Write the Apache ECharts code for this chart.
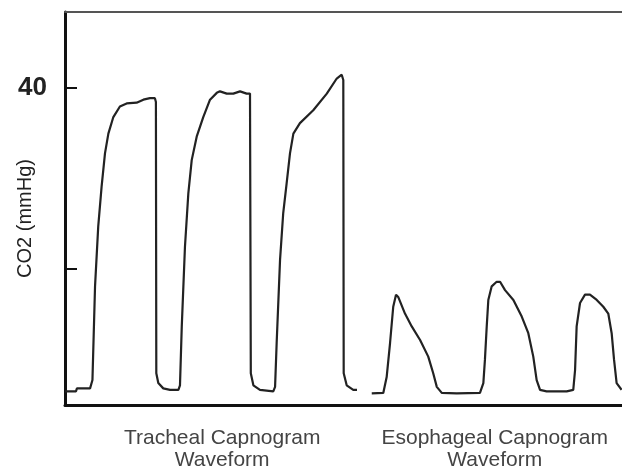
<!DOCTYPE html>
<html>
<head>
<meta charset="utf-8">
<script src="https://cdn.jsdelivr.net/npm/echarts@6/dist/echarts.min.js"></script>
<style>
  html, body { margin: 0; padding: 0; background: #fff; }
  #chart { width: 622px; height: 469px; }
</style>
</head>
<body>
<div id="chart"></div>
<script>
// time (s) and CO2 (mmHg)
const trachealTime = [0, 0.55, 0.6, 1.26, 1.34, 1.38, 1.51, 1.67, 1.84, 2.01, 2.18, 2.43, 2.76, 3.10, 3.60, 3.94, 4.27, 4.52, 4.57, 4.59, 4.69, 4.94, 5.28, 5.70,
  5.78, 5.87, 6.03, 6.20, 6.37, 6.62, 6.95, 7.29, 7.63, 7.79, 8.13, 8.46, 8.80, 9.13, 9.30, 9.34, 9.47, 9.80, 10.47,
  10.56, 10.64, 10.81, 10.97, 11.14, 11.31, 11.48, 11.81, 12.48, 13.16, 13.66, 13.91, 13.99, 14.01, 14.16, 14.49, 14.68]
const trachealCO2 = [-0.2, -0.2, 0.2, 0.2, 0, 1.3, 13.7, 21.6, 26.9, 31.3, 33.9, 36.1, 37.5, 37.9, 38.0, 38.4, 38.6, 38.6, 38.1, 2.2, 0.9, 0.2, 0, 0,
  0.6, 8.4, 18.9, 26.0, 30.4, 33.5, 36.1, 38.4, 39.3, 39.5, 39.2, 39.2, 39.5, 39.2, 39.2, 2.2, 0.6, 0, -0.2,
  0.4, 6.2, 17.2, 23.4, 27.3, 31.3, 33.9, 35.3, 37.0, 39.2, 41.2, 41.7, 41.0, 2.2, 0.6, 0, 0]

const esophagealTime = [15.42, 16.00, 16.17, 16.34, 16.50, 16.64, 16.75, 17.09, 17.43, 17.85, 18.26, 18.51, 18.69, 18.94, 19.69,
  20.86, 21.03, 21.11, 21.20, 21.28, 21.45, 21.70, 21.87, 22.12, 22.54, 22.96, 23.29, 23.54, 23.71, 23.88, 24.21, 25.22,
  25.55, 25.64, 25.72, 25.89, 26.14, 26.39, 26.73, 27.06, 27.31, 27.48, 27.60, 27.73, 27.98]
const esophagealCO2 = [-0.45, -0.4, 1.7, 6.2, 11.0, 12.6, 12.3, 10.1, 8.4, 6.6, 4.4, 2.2, 0.4, -0.4, -0.45,
  -0.4, 0.9, 4.0, 8.4, 11.9, 13.7, 14.3, 14.3, 13.2, 11.9, 9.7, 7.5, 4.4, 1.3, 0, -0.2, -0.2,
  0, 2.6, 8.4, 11.5, 12.6, 12.6, 11.9, 11.0, 10.1, 7.5, 4.0, 0.9, 0]

const yTicks = [16, 40]
const yLabels = ['40']
const xLabelAt = [7.9, 21.6]
const xLabels = ['Tracheal Capnogram\nWaveform', 'Esophageal Capnogram\nWaveform']

const font = 'Liberation Sans, Arial, Helvetica, sans-serif'

const zip = (xs, ys) => xs.map((x, i) => [x, ys[i]])

const chart = echarts.init(document.getElementById('chart'))
chart.setOption({
  animation: false,
  grid: { left: 65, right: 0, top: 12, bottom: 64, containLabel: false, outerBoundsMode: 'none' },
  xAxis: [
    {
      type: 'value',
      min: 0,
      max: 28,
      axisLine: { onZero: false, lineStyle: { color: '#111', width: 3 } },
      axisTick: { show: false },
      splitLine: { show: false },
      axisLabel: {
        customValues: xLabelAt,
        formatter: v => xLabels[xLabelAt.indexOf(v)] || '',
        color: '#444',
        fontFamily: font,
        fontSize: 21,
        lineHeight: 22,
        margin: 22
      }
    },
    {
      type: 'value',
      position: 'top',
      min: 0,
      max: 28,
      axisLine: { show: true, onZero: false, lineStyle: { color: '#555', width: 2 } },
      axisTick: { show: false },
      axisLabel: { show: false },
      splitLine: { show: false }
    }
  ],
  yAxis: {
    type: 'value',
    min: -2,
    max: 50,
    name: 'CO2 (mmHg)',
    nameLocation: 'middle',
    nameGap: 30,
    nameMoveOverlap: false,
    nameTextStyle: { color: '#222', fontFamily: font, fontSize: 20, padding: [0, 20, 0, 0] },
    axisLine: { show: true, onZero: false, lineStyle: { color: '#111', width: 3 } },
    axisTick: { inside: true, length: 12, customValues: yTicks, lineStyle: { color: '#111', width: 2 } },
    splitLine: { show: false },
    axisLabel: {
      customValues: [40],
      formatter: () => yLabels[0],
      color: '#222',
      fontFamily: font,
      fontSize: 26,
      fontWeight: 'bold',
      margin: 18
    }
  },
  series: [
    {
      name: 'Tracheal',
      type: 'line',
      data: zip(trachealTime, trachealCO2),
      showSymbol: false,
      lineStyle: { color: '#222', width: 2.2 }
    },
    {
      name: 'Esophageal',
      type: 'line',
      data: zip(esophagealTime, esophagealCO2),
      showSymbol: false,
      lineStyle: { color: '#222', width: 2.2 }
    }
  ]
})
</script>
</body>
</html>
